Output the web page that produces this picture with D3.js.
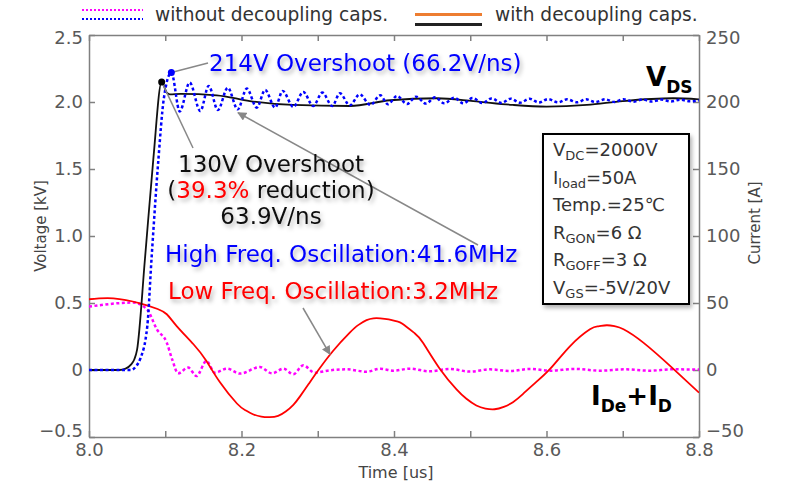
<!DOCTYPE html>
<html>
<head>
<meta charset="utf-8">
<script src="https://cdn.jsdelivr.net/npm/d3@7"></script>
<style>
  body { margin: 0; background: #fff; }
  text { font-family: "DejaVu Sans", sans-serif; }
</style>
</head>
<body>
<svg id="chart" width="786" height="487"></svg>
<script>
// V_DS with decoupling caps (black), [time us, kV]
var vdsWith = [
  [8.0, 0], [8.04, 0.0], [8.048, 0.01], [8.055, 0.04], [8.0595, 0.08], [8.063, 0.15],
  [8.0734, 0.83], [8.0843, 1.57], [8.0953, 2.15], [8.102, 2.07], [8.106, 2.057],
  [8.12, 2.06], [8.1675, 2.05], [8.211, 2.007], [8.2675, 1.978], [8.342, 1.97],
  [8.395, 2.013], [8.456, 2.028], [8.504, 2.007], [8.556, 1.978], [8.6, 1.966],
  [8.653, 1.978], [8.7, 2.007], [8.766, 2.028], [8.8, 2.02]
];

// V_DS without decoupling caps (blue dotted), [time us, kV]
var vdsWithout = [
  [8.0, 0], [8.055, 0.0], [8.062, 0.03], [8.067, 0.08], [8.0765, 0.33], [8.082, 0.83],
  [8.091, 1.57], [8.098, 2.02], [8.108, 2.22], [8.119, 1.93], [8.132, 2.145],
  [8.146, 1.933], [8.157, 2.12], [8.169, 1.94], [8.182, 2.107], [8.195, 1.945],
  [8.207, 2.10], [8.220, 1.958], [8.231, 2.09], [8.244, 1.958], [8.254, 2.082],
  [8.268, 1.963], [8.281, 2.075], [8.294, 1.97], [8.306, 2.07], [8.319, 1.97],
  [8.329, 2.065], [8.342, 1.975], [8.355, 2.057], [8.369, 1.978], [8.382, 2.05],
  [8.392, 1.983], [8.404, 2.045], [8.417, 1.985], [8.429, 2.04], [8.442, 1.988],
  [8.454, 2.035], [8.466, 1.99], [8.479, 2.032], [8.491, 1.99], [8.503, 2.03],
  [8.516, 1.992], [8.528, 2.027], [8.541, 1.993], [8.553, 2.025], [8.565, 1.995],
  [8.578, 2.024], [8.590, 1.996], [8.602, 2.022], [8.615, 1.997], [8.627, 2.02],
  [8.640, 1.998], [8.652, 2.02], [8.664, 2.0], [8.677, 2.02], [8.689, 2.0],
  [8.701, 2.02], [8.714, 2.002], [8.726, 2.019], [8.738, 2.003], [8.751, 2.018],
  [8.763, 2.004], [8.776, 2.017], [8.788, 2.005], [8.8, 2.012]
];

// I_De + I_D with decoupling caps (red), [time us, A]
var iWith = [
  [8.0, 52.8], [8.032, 53.5], [8.067, 49.8], [8.09, 45.5], [8.102, 41.6], [8.115, 32.8],
  [8.137, 19.2], [8.154, 6.7], [8.172, -9.4], [8.194, -25], [8.205, -30], [8.215, -33],
  [8.226, -34.8], [8.237, -35.2], [8.248, -34.2], [8.258, -31], [8.268, -26], [8.277, -19.5],
  [8.288, -10.5], [8.299, -1.5], [8.320, 14.2], [8.342, 27.9], [8.353, 33.5], [8.364, 37.2],
  [8.373, 38.6], [8.382, 38.6], [8.393, 37.8], [8.404, 36.2], [8.411, 34.5], [8.427, 27.5],
  [8.438, 20.4], [8.460, 1], [8.482, -14.4], [8.495, -21.5], [8.508, -26.5], [8.520, -28.8],
  [8.532, -29.3], [8.544, -27.5], [8.556, -24], [8.569, -18], [8.583, -10.7], [8.605, 1],
  [8.631, 17.9], [8.657, 30.4], [8.668, 32.6], [8.679, 33.4], [8.690, 32.6], [8.701, 30.4],
  [8.727, 20.4], [8.766, 1], [8.8, -16.9]
];

// I_De + I_D without decoupling caps (magenta dotted), [time us, A]
var iWithout = [
  [8.0, 47.3], [8.058, 50.3], [8.076, 45.3], [8.089, 30.4], [8.102, 20.4], [8.109, 8],
  [8.117, -2.5], [8.130, 1.8], [8.141, -4.5], [8.154, 6.7], [8.165, -2], [8.181, 1],
  [8.198, -2.7], [8.224, 2.2], [8.240, -2.5], [8.255, 1], [8.268, -3.2], [8.281, 3.5],
  [8.296, -2], [8.316, -0.2], [8.338, 0.5], [8.364, -1.3], [8.382, 1], [8.399, -0.5],
  [8.421, 1], [8.447, -1], [8.473, 0.8], [8.5, -1.2], [8.526, 0.5], [8.552, -0.8],
  [8.578, 0.8], [8.605, -0.5], [8.637, 0.8], [8.670, -0.5], [8.703, 0.5], [8.736, -0.5],
  [8.764, 0.5], [8.8, 0.3]
];

var timeTicks = [8.0, 8.1, 8.2, 8.3, 8.4, 8.5, 8.6, 8.7, 8.8];
var voltTicks = [-0.5, 0, 0.5, 1.0, 1.5, 2.0, 2.5];
var currTicks = [-50, 0, 50, 100, 150, 200, 250];
var boxLines = [
  ["V", "DC", "=2000V"],
  ["I", "load", "=50A"],
  ["Temp.=25℃", "", ""],
  ["R", "GON", "=6 Ω"],
  ["R", "GOFF", "=3 Ω"],
  ["V", "GS", "=-5V/20V"]
];

var svg = d3.select('#chart');
var plotL = 89, plotR = 699, plotT = 35, plotB = 437;

var x = d3.scaleLinear().domain([8.0, 8.8]).range([plotL, plotR]);
var yV = d3.scaleLinear().domain([-0.5, 2.5]).range([plotB, plotT]);
var yI = d3.scaleLinear().domain([-50, 250]).range([plotB, plotT]);

var defs = svg.append('defs');
defs.append('clipPath').attr('id', 'plotclip')
  .append('rect').attr('x', plotL).attr('y', plotT).attr('width', plotR - plotL).attr('height', plotB - plotT);
var shadow = defs.append('filter').attr('id', 'shadow')
  .attr('x', '-10%').attr('y', '-30%').attr('width', '130%').attr('height', '180%');
shadow.append('feDropShadow').attr('dx', 2).attr('dy', 3).attr('stdDeviation', 2)
  .attr('flood-color', '#000').attr('flood-opacity', 0.3);
defs.append('marker').attr('id', 'arrow').attr('viewBox', '0 0 10 10')
  .attr('refX', 9).attr('refY', 5).attr('markerWidth', 10).attr('markerHeight', 9)
  .attr('markerUnits', 'userSpaceOnUse').attr('orient', 'auto')
  .append('path').attr('d', 'M0,0L10,5L0,10Z').attr('fill', '#888');

// axes
var axisColor = '#808080', tickColor = '#595959';
function styleAxis(g) {
  g.select('.domain').attr('stroke', axisColor).attr('stroke-width', 1.5);
  g.selectAll('.tick line').attr('stroke', axisColor).attr('stroke-width', 1.5);
  g.selectAll('.tick text').attr('fill', tickColor).style('font-size', '18px')
    .style('font-family', '"DejaVu Sans", sans-serif');
}
// end labels sit a little inside the frame, like the original
function nudgeEnds(g) {
  var t = g.selectAll('.tick text');
  var n = t.size();
  t.attr('dy', function(d, i) { return i === 0 ? '-0.05em' : (i === n - 1 ? '0.47em' : '0.32em'); });
}
svg.append('g').attr('transform', 'translate(0,' + plotB + ')')
  .call(d3.axisBottom(x).tickValues(timeTicks).tickSizeInner(-6).tickSizeOuter(0).tickPadding(6)
    .tickFormat(function(d, i) { return i % 2 === 0 ? d3.format('.1f')(d) : ''; }))
  .call(styleAxis);
svg.append('g').attr('transform', 'translate(0,' + plotT + ')')
  .call(d3.axisTop(x).tickValues(timeTicks).tickSizeInner(-6).tickSizeOuter(0).tickFormat(''))
  .call(styleAxis);
svg.append('g').attr('transform', 'translate(' + plotL + ',0)')
  .call(d3.axisLeft(yV).tickValues(voltTicks).tickSizeInner(-6).tickSizeOuter(0).tickPadding(6)
    .tickFormat(function(d) { return d === 0 ? '0' : d3.format('.1f')(d); }))
  .call(styleAxis).call(nudgeEnds);
svg.append('g').attr('transform', 'translate(' + plotR + ',0)')
  .call(d3.axisRight(yI).tickValues(currTicks).tickSizeInner(-6).tickSizeOuter(0).tickPadding(7))
  .call(styleAxis).call(nudgeEnds);

// axis titles
svg.append('text').attr('transform', 'translate(46,226) rotate(-90)').attr('text-anchor', 'middle')
  .style('font-size', '15px').attr('fill', '#444').text('Voltage [kV]');
svg.append('text').attr('transform', 'translate(760,223) rotate(-90)').attr('text-anchor', 'middle')
  .style('font-size', '15px').attr('fill', '#444').text('Current [A]');
svg.append('text').attr('x', 396).attr('y', 478).attr('text-anchor', 'middle')
  .style('font-size', '16px').attr('fill', '#444').text('Time [us]');

// curves
var plot = svg.append('g').attr('clip-path', 'url(#plotclip)');
var lineV = d3.line().x(function(d) { return x(d[0]); }).y(function(d) { return yV(d[1]); }).curve(d3.curveMonotoneX);
var lineI = d3.line().x(function(d) { return x(d[0]); }).y(function(d) { return yI(d[1]); }).curve(d3.curveMonotoneX);
var lineIsmooth = d3.line().x(function(d) { return x(d[0]); }).y(function(d) { return yI(d[1]); }).curve(d3.curveNatural);

plot.append('path').datum(iWithout).attr('d', lineI).attr('fill', 'none')
  .attr('stroke', '#ff00ff').attr('stroke-width', 2.5).attr('stroke-dasharray', '3,2.5');
plot.append('path').datum(iWith).attr('d', lineIsmooth).attr('fill', 'none')
  .attr('stroke', '#ff0000').attr('stroke-width', 1.8);
plot.append('path').datum(vdsWith).attr('d', lineV).attr('fill', 'none')
  .attr('stroke', '#111').attr('stroke-width', 1.8);
plot.append('path').datum(vdsWithout).attr('d', lineV).attr('fill', 'none')
  .attr('stroke', '#0000ff').attr('stroke-width', 2.5).attr('stroke-dasharray', '3,2.5');

var peakWith = d3.greatest(vdsWith, function(d) { return d[1]; });
var peakWithout = d3.greatest(vdsWithout, function(d) { return d[1]; });

// annotation lines
svg.append('line').attr('x1', x(peakWithout[0])).attr('y1', yV(peakWithout[1]))
  .attr('x2', 208).attr('y2', 63).attr('stroke', '#888').attr('stroke-width', 1.5);
svg.append('line').attr('x1', x(peakWith[0])).attr('y1', yV(peakWith[1]))
  .attr('x2', 193).attr('y2', 148).attr('stroke', '#888').attr('stroke-width', 1.5);
svg.append('line').attr('x1', 478).attr('y1', 245)
  .attr('x2', x(8.1954)).attr('y2', yV(1.92)).attr('stroke', '#888').attr('stroke-width', 1.5)
  .attr('marker-end', 'url(#arrow)');
svg.append('line').attr('x1', 303).attr('y1', 308)
  .attr('x2', x(8.316)).attr('y2', yI(11.7)).attr('stroke', '#888').attr('stroke-width', 1.5)
  .attr('marker-end', 'url(#arrow)');

svg.append('circle').attr('cx', x(peakWithout[0])).attr('cy', yV(peakWithout[1])).attr('r', 3.5).attr('fill', '#0000ff');
svg.append('circle').attr('cx', x(peakWith[0])).attr('cy', yV(peakWith[1])).attr('r', 3.5).attr('fill', '#000');

// annotation texts
var ann = svg.append('g').attr('filter', 'url(#shadow)').style('font-size', '23px');
ann.append('text').attr('x', 209).attr('y', 71).attr('fill', '#0000ff').text('214V Overshoot (66.2V/ns)');
ann.append('text').attr('x', 271).attr('y', 172).attr('text-anchor', 'middle').attr('fill', '#111').text('130V Overshoot');
var red = ann.append('text').attr('x', 271).attr('y', 198).attr('text-anchor', 'middle').attr('fill', '#111');
red.append('tspan').text('(');
red.append('tspan').attr('fill', '#ff0000').text('39.3%');
red.append('tspan').text(' reduction)');
ann.append('text').attr('x', 271).attr('y', 224).attr('text-anchor', 'middle').attr('fill', '#111').text('63.9V/ns');
ann.append('text').attr('x', 165).attr('y', 262).attr('fill', '#0000ff').text('High Freq. Oscillation:41.6MHz');
ann.append('text').attr('x', 168).attr('y', 299).attr('fill', '#ff0000').text('Low Freq. Oscillation:3.2MHz');

// VDS and IDe+ID labels
var vds = svg.append('text').attr('x', 646).attr('y', 86).attr('fill', '#000').style('font-weight', 'bold').style('font-size', '26px');
vds.append('tspan').text('V');
vds.append('tspan').attr('dy', 7).style('font-size', '17px').text('DS');
var ide = svg.append('text').attr('x', 591).attr('y', 405).attr('fill', '#000').style('font-weight', 'bold').style('font-size', '26px');
ide.append('tspan').text('I');
ide.append('tspan').attr('dy', 7).style('font-size', '17px').text('De');
ide.append('tspan').attr('dy', -7).text('+I');
ide.append('tspan').attr('dy', 7).style('font-size', '17px').text('D');

// condition box
svg.append('rect').attr('x', 543).attr('y', 134).attr('width', 146).attr('height', 170)
  .attr('fill', '#fff').attr('stroke', '#000').attr('stroke-width', 2).attr('filter', 'url(#shadow)');
var box = svg.append('g').style('font-size', '18px').attr('fill', '#333');
boxLines.forEach(function(l, i) {
  var t = box.append('text').attr('x', 553).attr('y', 156 + i * 27.6);
  t.append('tspan').text(l[0]);
  if (l[1]) {
    t.append('tspan').attr('dy', 4).style('font-size', '13px').text(l[1]);
    t.append('tspan').attr('dy', -4).text(l[2]);
  }
});

// legend
var lg = svg.append('g');
lg.append('line').attr('x1', 82).attr('x2', 143).attr('y1', 10).attr('y2', 10)
  .attr('stroke', '#ff00ff').attr('stroke-width', 2).attr('stroke-dasharray', '2,2');
lg.append('line').attr('x1', 82).attr('x2', 143).attr('y1', 19).attr('y2', 19)
  .attr('stroke', '#0000ff').attr('stroke-width', 2).attr('stroke-dasharray', '2,2');
lg.append('text').attr('x', 155).attr('y', 21).style('font-size', '18.6px').attr('fill', '#333').text('without decoupling caps.');
lg.append('line').attr('x1', 415).attr('x2', 482).attr('y1', 14.5).attr('y2', 14.5)
  .attr('stroke', '#ed7d31').attr('stroke-width', 3);
lg.append('line').attr('x1', 415).attr('x2', 482).attr('y1', 24.5).attr('y2', 24.5)
  .attr('stroke', '#222').attr('stroke-width', 3);
lg.append('text').attr('x', 495).attr('y', 21).style('font-size', '18.6px').attr('fill', '#333').text('with decoupling caps.');
</script>
</body>
</html>
